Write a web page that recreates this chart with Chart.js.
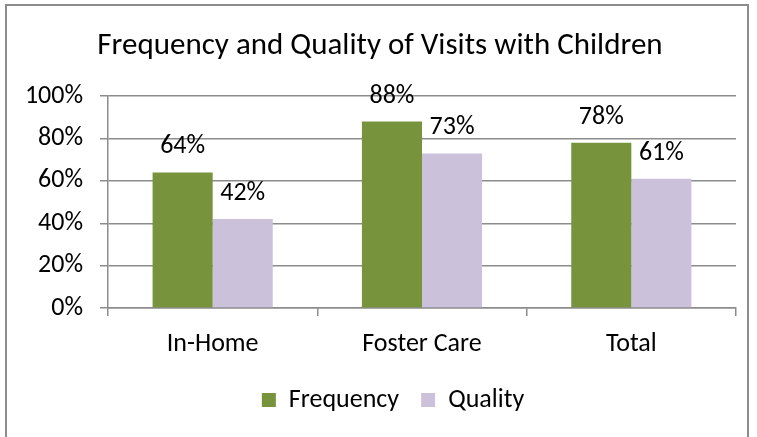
<!DOCTYPE html>
<html>
<head>
<meta charset="utf-8">
<script src="https://cdn.jsdelivr.net/npm/chart.js@4/dist/chart.umd.min.js"></script>
<style>
  html, body { margin: 0; padding: 0; background: #fff; overflow: hidden; }
  #wrap { position: relative; width: 757px; height: 437px; }
  #frame { position: absolute; left: 5px; top: 4px; width: 744px; height: 460px;
           border: 2px solid #8c8c8c; box-sizing: border-box; }
  canvas { position: absolute; left: 0; top: 0; }
</style>
</head>
<body>
<div id="wrap">
  <div id="frame"></div>
  <canvas id="bar-chart"></canvas>
</div>
<script>
// data
var categories = ["In-Home", "Foster Care", "Total"];
var frequency = [64, 88, 78];
var quality = [42, 73, 61];
var yTicks = [0, 20, 40, 60, 80, 100];

var fontFamily = "Carlito, Lato, 'Open Sans', sans-serif";

// draws the value above each bar
var valueLabels = {
  id: 'valueLabels',
  afterDatasetsDraw: function(chart) {
    var ctx = chart.ctx;
    ctx.save();
    ctx.font = "26px " + fontFamily;
    ctx.fillStyle = "#000";
    ctx.textAlign = "center";
    ctx.textBaseline = "alphabetic";
    chart.data.datasets.forEach(function(ds, i) {
      chart.getDatasetMeta(i).data.forEach(function(bar, j) {
        ctx.fillText(ds.data[j] + "%", bar.x, bar.y - 19);
      });
    });
    ctx.restore();
  }
};

// nudge the legend a little, like the original
var legendShift = {
  id: 'legendShift',
  afterLayout: function(chart) {
    chart.legend.left += 13;
    chart.legend.right += 13;
    chart.legend.top -= 5;
    chart.legend.bottom -= 5;
  }
};

new Chart(document.getElementById("bar-chart"), {
  type: 'bar',
  data: {
    labels: categories,
    datasets: [
      { label: "Frequency", backgroundColor: "#77933C", data: frequency },
      { label: "Quality", backgroundColor: "#CCC1DA", data: quality }
    ]
  },
  plugins: [valueLabels, legendShift],
  options: {
    responsive: true,
    maintainAspectRatio: false,
    animation: false,
    layout: { padding: { left: 24, right: 21, top: 0, bottom: 9 } },
    datasets: { bar: { categoryPercentage: 0.574, barPercentage: 1.0 } },
    plugins: {
      title: {
        display: true,
        text: "Frequency and Quality of Visits with Children",
        color: "#000",
        font: { family: fontFamily, size: 31, weight: 'normal' },
        padding: { top: 28, bottom: 31 }
      },
      legend: {
        position: 'bottom',
        labels: {
          color: "#000",
          font: { family: fontFamily, size: 26 },
          boxWidth: 14,
          boxHeight: 14,
          padding: 22
        }
      },
      tooltip: { enabled: false }
    },
    scales: {
      x: {
        afterFit: function(axis) { axis.height = 62; },
        grid: { display: true, drawOnChartArea: false, drawTicks: true, tickLength: 8,
                offset: true, color: "#8c8c8c", lineWidth: 1.5 },
        border: { display: true, color: "#8c8c8c", width: 1.5 },
        ticks: { color: "#000", font: { family: fontFamily, size: 26 }, padding: 13 }
      },
      y: {
        min: 0,
        max: 100,
        afterBuildTicks: function(axis) {
          axis.ticks = yTicks.map(function(v) { return { value: v }; });
        },
        afterFit: function(axis) { axis.width = 84; },
        grid: { color: "#8c8c8c", lineWidth: 1.5, tickLength: 8 },
        border: { display: true, color: "#8c8c8c", width: 1.5 },
        ticks: {
          color: "#000",
          font: { family: fontFamily, size: 26 },
          padding: 17,
          callback: function(v) { return v + "%"; }
        }
      }
    }
  }
});
</script>
</body>
</html>
